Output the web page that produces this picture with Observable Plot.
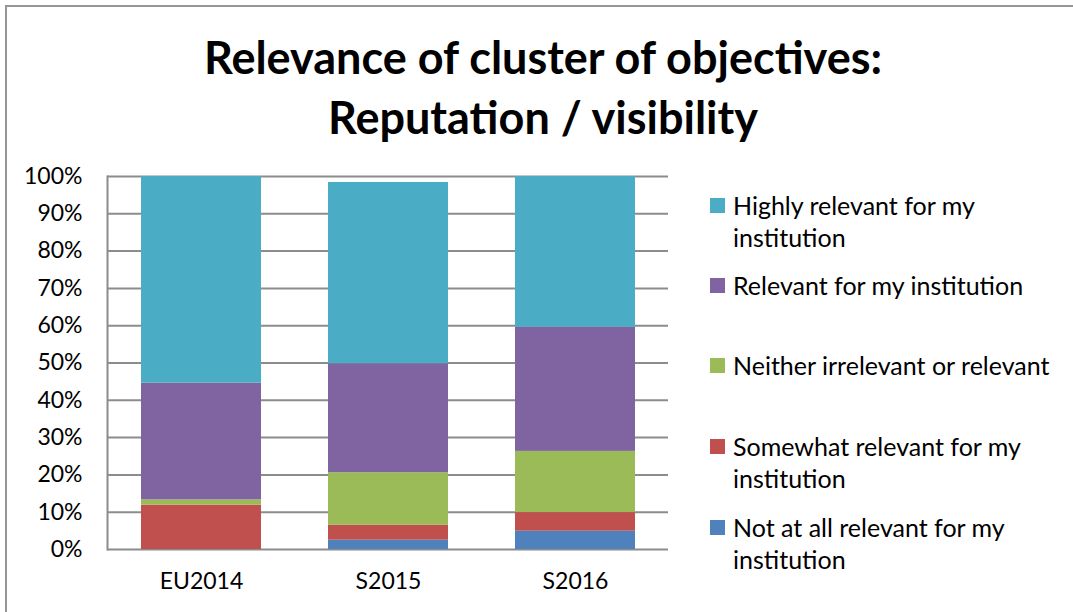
<!DOCTYPE html>
<html>
<head>
<meta charset="utf-8">
<script src="https://cdn.jsdelivr.net/npm/d3@7"></script>
<script src="https://cdn.jsdelivr.net/npm/@observablehq/plot@0.6"></script>
<style>
  html, body { margin: 0; padding: 0; background: #fff; }
  #wrap { position: relative; width: 1073px; height: 612px; overflow: hidden; font-family: Lato, "Open Sans", sans-serif; color: #000; }
  #border { position: absolute; left: 5px; top: 5px; width: 1100px; height: 700px; border-left: 2px solid #969696; border-top: 2px solid #969696; }
  #title { position: absolute; left: 0; width: 1086px; top: 27px; text-align: center; font-weight: 700; font-size: 45px; line-height: 60px; }
  #chart { position: absolute; left: 0; top: 0; }
  .leg { position: absolute; left: 733px; font-size: 25px; line-height: 32px; white-space: pre; }
  .sw { position: absolute; left: 710px; width: 15px; height: 15px; }
</style>
</head>
<body>
<div id="wrap">
  <div id="chart"></div>
  <div id="border"></div>
  <div id="title">Relevance of cluster of objectives:<br>Reputation / visibility</div>
</div>
<script>
const categories = ["EU2014", "S2015", "S2016"];
const series = [
  "Not at all relevant for my institution",
  "Somewhat relevant for my institution",
  "Neither irrelevant or relevant",
  "Relevant for my institution",
  "Highly relevant for my institution"
];
const legendLabels = [
  "Highly relevant for my\ninstitution",
  "Relevant for my institution",
  "Neither irrelevant or relevant",
  "Somewhat relevant for my\ninstitution",
  "Not at all relevant for my\ninstitution"
];
const colors = ["#4f81bd", "#c0504d", "#9bbb59", "#8064a2", "#4bacc6"];
// values in percent, per series (bottom to top), per category
const notAtAll   = [0.0, 2.5, 4.9];
const somewhat   = [11.9, 4.0, 5.0];
const neither    = [1.4, 14.1, 16.4];
const relevant   = [31.3, 29.2, 33.3];
const highly     = [55.4, 48.6, 40.4];
const yTicks = [0, 0.1, 0.2, 0.3, 0.4, 0.5, 0.6, 0.7, 0.8, 0.9, 1.0];

const seriesValues = [notAtAll, somewhat, neither, relevant, highly];
const data = [];
seriesValues.forEach((vals, si) => {
  vals.forEach((v, ci) => data.push({cat: categories[ci], series: series[si], value: v / 100}));
});

const gridColor = "#8c8c8c";
const chart = Plot.plot({
  width: 1073,
  height: 612,
  marginLeft: 107,
  marginRight: 405,
  marginTop: 176,
  marginBottom: 63,
  style: {fontFamily: "Lato, 'Open Sans', sans-serif", fontSize: "23px", color: "#000", background: "transparent"},
  x: {domain: categories, paddingInner: 0.36, paddingOuter: 0.18, label: null},
  y: {domain: [0, 1], label: null},
  color: {domain: series, range: colors},
  marks: [
    Plot.ruleY(yTicks, {stroke: gridColor, strokeWidth: 2, strokeOpacity: 1}),
    Plot.frame({anchor: "left", stroke: gridColor, strokeWidth: 2}),
    Plot.barY(data, {x: "cat", y: "value", fill: "series"}),
    Plot.axisY({ticks: yTicks, tickSize: 0, tickPadding: 25, tickFormat: d => Math.round(d * 100) + "%", fontSize: 23, label: null}),
    Plot.axisX({tickSize: 0, tickPadding: 23, fontSize: 23, label: null})
  ]
});
document.getElementById("chart").appendChild(chart);

const wrap = document.getElementById("wrap");
const legendCenters = [205, 285, 365, 446, 527];
legendLabels.forEach((lab, i) => {
  const colorIdx = series.length - 1 - i;
  const sw = document.createElement("div");
  sw.className = "sw";
  sw.style.top = (legendCenters[i] - 7.5) + "px";
  sw.style.background = colors[colorIdx];
  wrap.appendChild(sw);
  const t = document.createElement("div");
  t.className = "leg";
  t.style.top = (legendCenters[i] - 16) + "px";
  t.textContent = lab;
  wrap.appendChild(t);
});
</script>
</body>
</html>
